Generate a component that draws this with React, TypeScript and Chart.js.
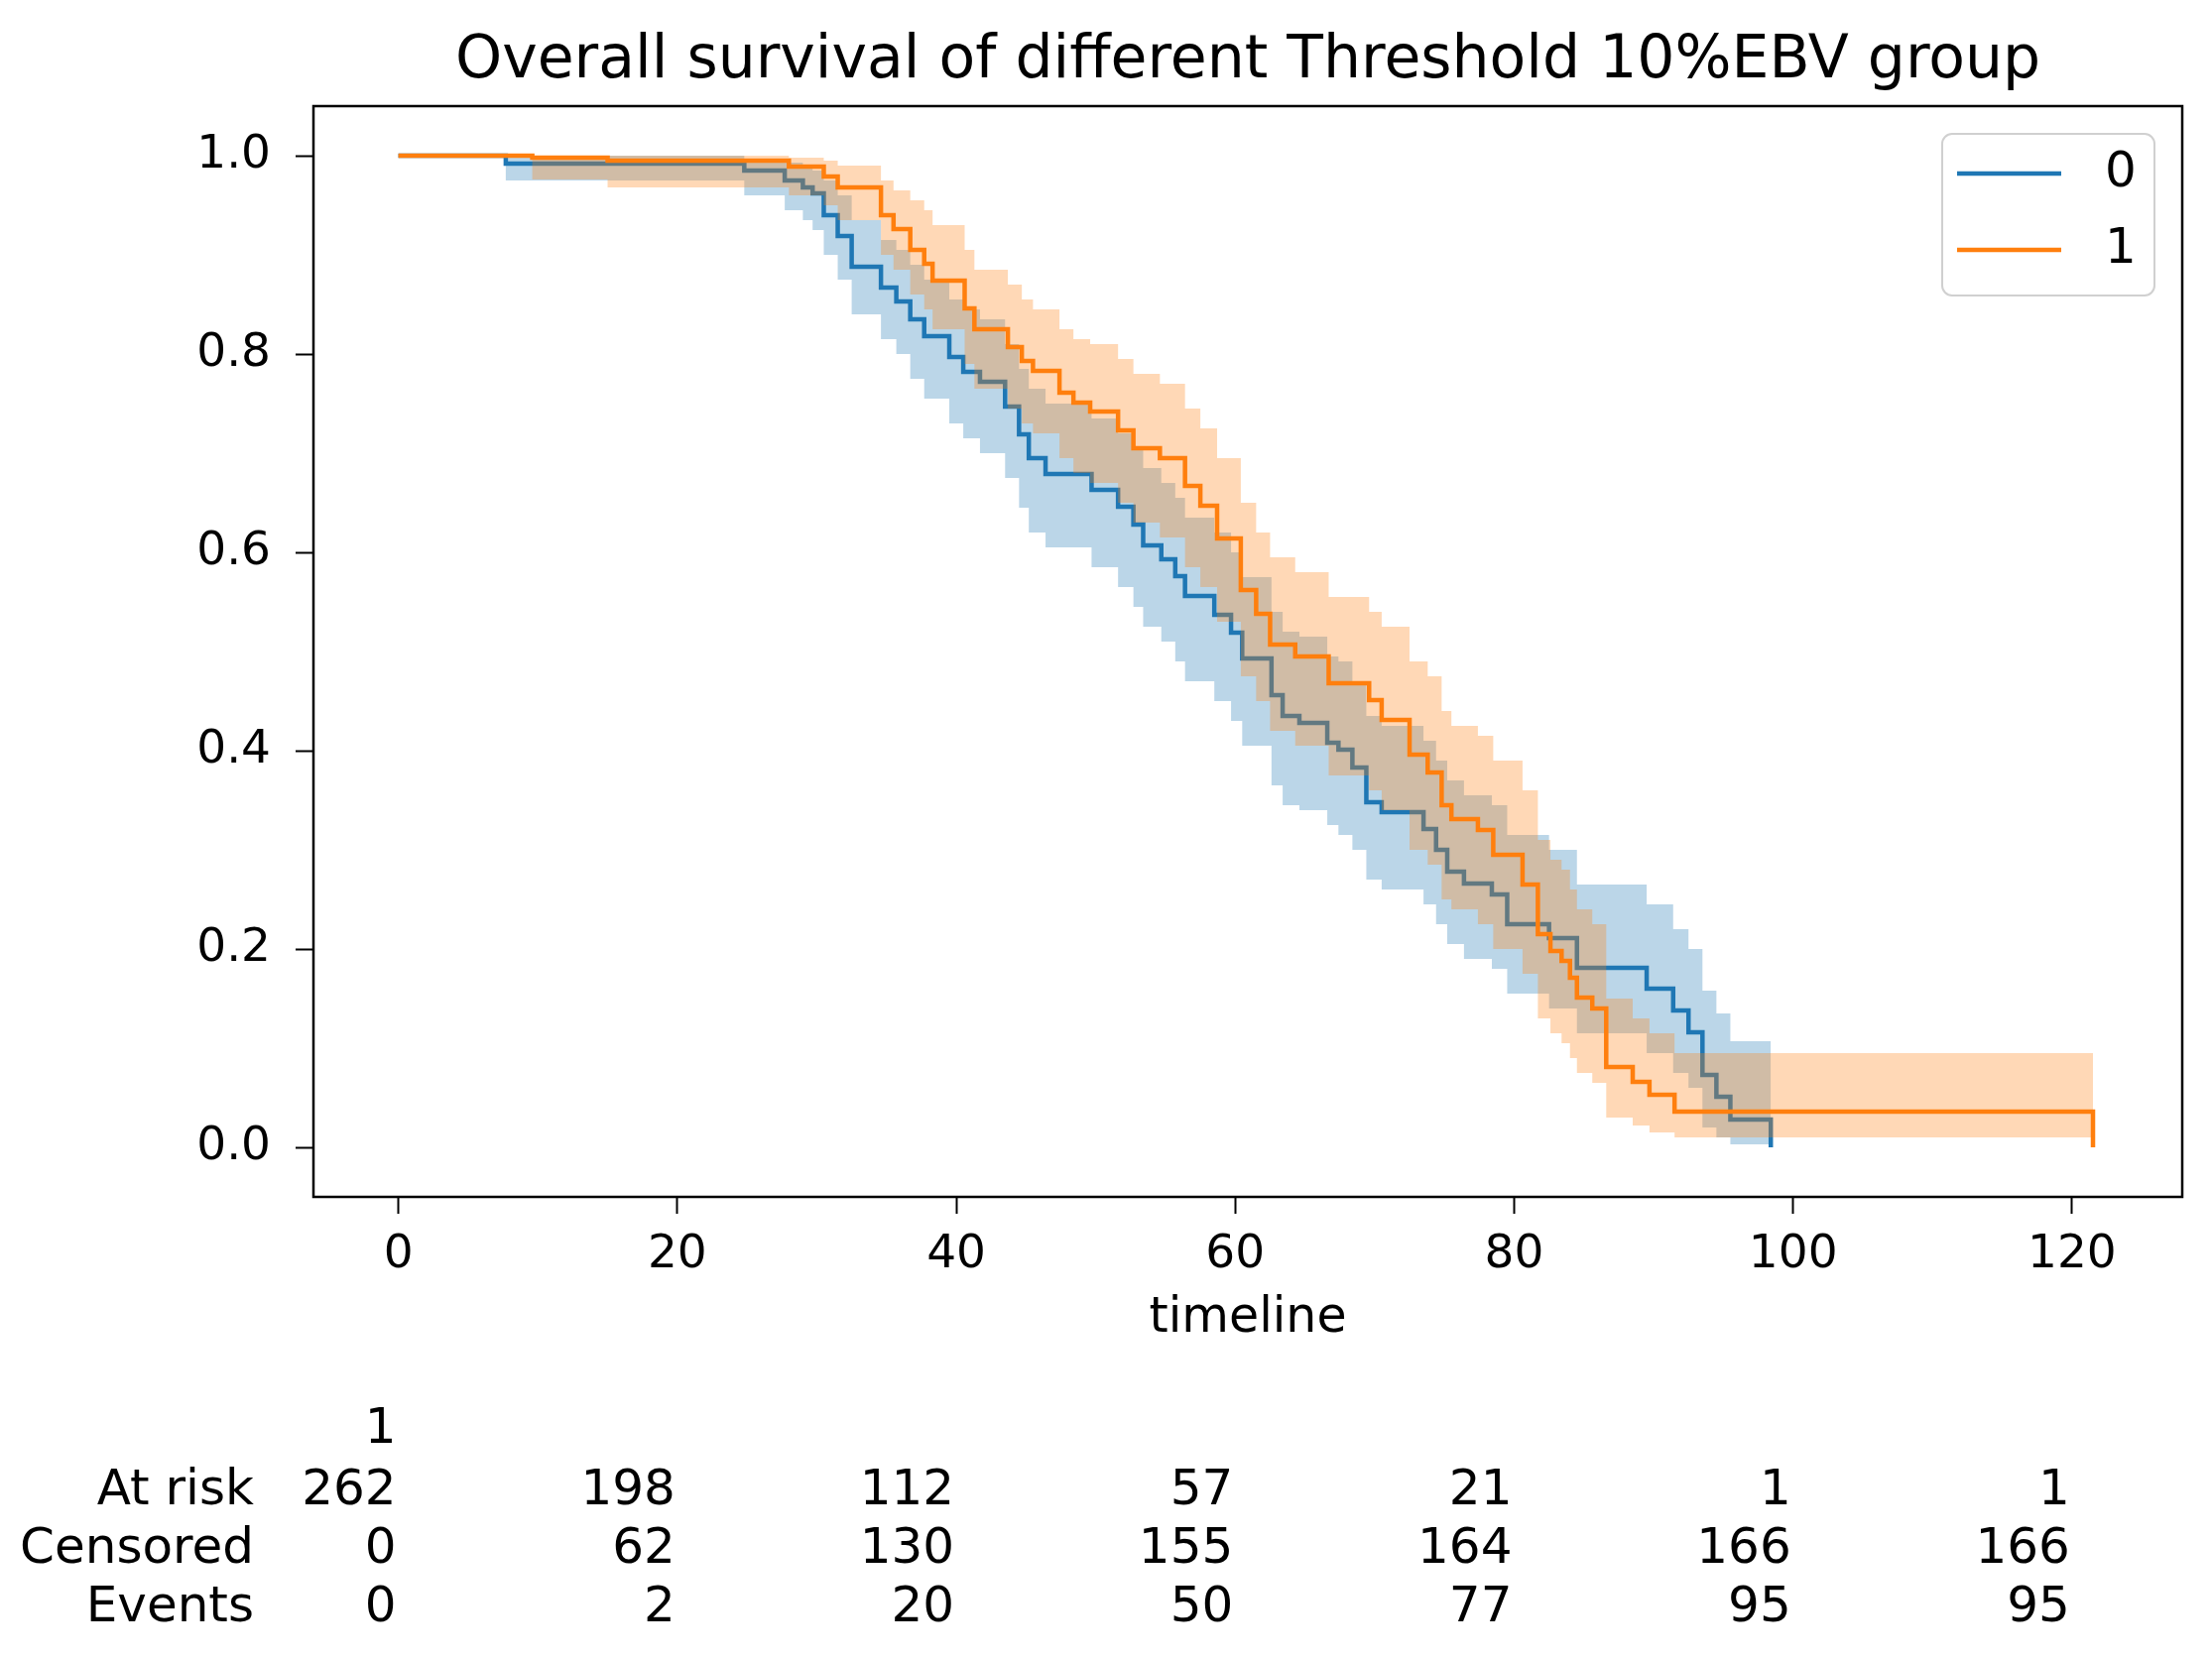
import { useEffect, useRef } from "react"
import { Chart, registerables } from "chart.js"

Chart.register(...registerables)

const FONT = "'DejaVu Sans', sans-serif"

const titleText = "Overall survival of different Threshold 10%EBV group"
const groupLabels = ["0", "1"]

// group 0 (blue) Kaplan-Meier steps and confidence band
const blueTime = [
  0, 7.7, 24.8, 27.7, 29.0, 29.7, 30.5, 31.5, 32.5, 34.6, 35.7, 36.7, 37.7, 39.5, 40.5, 41.7, 43.5, 44.5,
  45.2, 46.4, 49.7, 51.6, 52.7, 53.4, 54.7, 55.7, 56.4, 58.5, 59.7, 60.5, 62.6, 63.4, 64.6, 66.6, 67.4, 68.4,
  69.4, 70.5, 73.5, 74.4, 75.2, 76.4, 78.4, 79.5, 82.5, 84.5, 89.5, 91.4, 92.5, 93.5, 94.5, 95.5, 98.4,
]
const blueSurv = [
  1.0, 0.992, 0.985, 0.975, 0.968, 0.962, 0.94, 0.919, 0.888, 0.867, 0.853, 0.835, 0.818, 0.797, 0.782, 0.772,
  0.747, 0.719, 0.695, 0.679, 0.663, 0.646, 0.628, 0.607, 0.593, 0.576, 0.556, 0.537, 0.519, 0.493, 0.456,
  0.435, 0.428, 0.408, 0.401, 0.383, 0.348, 0.338, 0.321, 0.3, 0.278, 0.266, 0.255, 0.225, 0.211, 0.181, 0.16,
  0.138, 0.116, 0.073, 0.051, 0.028, 0.0,
]
const blueLower = [
  1.0, 0.975, 0.96, 0.945, 0.935, 0.925, 0.9, 0.875, 0.84, 0.815, 0.8, 0.775, 0.755, 0.73, 0.715, 0.7, 0.675,
  0.645, 0.62, 0.605, 0.585, 0.565, 0.545, 0.525, 0.51, 0.49, 0.47, 0.45, 0.43, 0.405, 0.365, 0.345, 0.34,
  0.325, 0.315, 0.3, 0.27, 0.26, 0.245, 0.225, 0.205, 0.19, 0.18, 0.155, 0.14, 0.115, 0.095, 0.075, 0.06, 0.02,
  0.01, 0.003, 0.003,
]
const blueUpper = [
  1.0, 1.0, 0.997, 0.993, 0.99, 0.985, 0.975, 0.96, 0.935, 0.915, 0.905, 0.89, 0.875, 0.855, 0.845, 0.835,
  0.81, 0.785, 0.765, 0.75, 0.735, 0.72, 0.705, 0.685, 0.67, 0.655, 0.635, 0.62, 0.6, 0.575, 0.54, 0.52,
  0.515, 0.495, 0.49, 0.47, 0.435, 0.425, 0.41, 0.39, 0.37, 0.355, 0.345, 0.315, 0.3, 0.265, 0.245, 0.22, 0.2,
  0.158, 0.135, 0.107, 0.107,
]

// group 1 (orange) Kaplan-Meier steps and confidence band
const orangeTime = [
  0, 9.6, 15.0, 28.0, 30.5, 31.5, 34.6, 35.5, 36.7, 37.7, 38.3, 40.6, 41.3, 43.7, 44.7, 45.5, 47.4, 48.4, 49.6,
  51.6, 52.7, 54.6, 56.4, 57.5, 58.7, 60.4, 61.5, 62.5, 64.3, 66.7, 69.6, 70.5, 72.5, 73.8, 74.8, 75.5, 77.4,
  78.5, 80.6, 81.7, 82.6, 83.4, 84.0, 84.5, 85.6, 86.6, 88.5, 89.7, 91.5, 121.5,
]
const orangeSurv = [
  1.0, 0.998, 0.995, 0.989, 0.979, 0.968, 0.94, 0.926, 0.905, 0.891, 0.874, 0.846, 0.825, 0.807, 0.793, 0.783,
  0.761, 0.751, 0.742, 0.723, 0.705, 0.695, 0.667, 0.647, 0.614, 0.562, 0.538, 0.507, 0.495, 0.468, 0.451,
  0.431, 0.396, 0.378, 0.345, 0.331, 0.32, 0.295, 0.265, 0.215, 0.198, 0.188, 0.171, 0.151, 0.14, 0.081, 0.066,
  0.053, 0.036, 0.0,
]
const orangeLower = [
  1.0, 0.976, 0.968, 0.96, 0.95, 0.935, 0.9, 0.885, 0.86, 0.845, 0.825, 0.79, 0.765, 0.745, 0.73, 0.72, 0.695,
  0.68, 0.67, 0.65, 0.63, 0.615, 0.585, 0.565, 0.53, 0.475, 0.45, 0.42, 0.405, 0.375, 0.36, 0.34, 0.3, 0.285,
  0.25, 0.24, 0.225, 0.2, 0.175, 0.13, 0.115, 0.105, 0.09, 0.075, 0.065, 0.03, 0.022, 0.015, 0.01, 0.01,
]
const orangeUpper = [
  1.0, 1.0, 1.0, 0.998, 0.995, 0.99, 0.975, 0.965, 0.955, 0.945, 0.93, 0.905, 0.885, 0.87, 0.855, 0.845, 0.825,
  0.815, 0.81, 0.795, 0.78, 0.77, 0.745, 0.725, 0.695, 0.65, 0.62, 0.595, 0.58, 0.555, 0.54, 0.525, 0.49, 0.475,
  0.44, 0.425, 0.415, 0.39, 0.36, 0.31, 0.29, 0.28, 0.26, 0.24, 0.225, 0.15, 0.13, 0.115, 0.095, 0.095,
]

const xTicks = [0, 20, 40, 60, 80, 100, 120]
const yTicks = [0, 0.2, 0.4, 0.6, 0.8, 1.0]

// at-risk table under the plot
const riskHeader = "1"
const riskRows = ["At risk", "Censored", "Events"]
const atRisk = [262, 198, 112, 57, 21, 1, 1]
const censored = [0, 62, 130, 155, 164, 166, 166]
const events = [0, 2, 20, 50, 77, 95, 95]

const BLUE = "#1f77b4"
const ORANGE = "#ff7f0e"

const toPoints = (xs: number[], ys: number[]) => xs.map((x, i) => ({ x, y: ys[i] }))

const extrasPlugin = {
  id: "kmExtras",
  afterDraw(chart: Chart) {
    const { ctx, chartArea } = chart
    const { left, right, top, bottom } = chartArea
    ctx.save()

    // frame
    ctx.strokeStyle = "#000"
    ctx.lineWidth = 2.5
    ctx.strokeRect(left, top, right - left, bottom - top)

    // title
    ctx.fillStyle = "#000"
    ctx.font = `60px ${FONT}`
    ctx.textAlign = "center"
    ctx.textBaseline = "alphabetic"
    ctx.fillText(titleText, (left + right) / 2, 78)

    // legend
    const boxW = 214
    const boxH = 163
    const bx = right - 28 - boxW
    const by = top + 28
    ctx.beginPath()
    ctx.roundRect(bx, by, boxW, boxH, 10)
    ctx.fillStyle = "rgba(255,255,255,0.8)"
    ctx.fill()
    ctx.strokeStyle = "#d0d0d0"
    ctx.lineWidth = 2
    ctx.stroke()
    const colors = [BLUE, ORANGE]
    groupLabels.forEach((label, i) => {
      const ly = by + 40 + i * 77
      ctx.beginPath()
      ctx.moveTo(bx + 15, ly)
      ctx.lineTo(bx + 120, ly)
      ctx.strokeStyle = colors[i]
      ctx.lineWidth = 4.5
      ctx.stroke()
      ctx.fillStyle = "#000"
      ctx.font = `50px ${FONT}`
      ctx.textAlign = "left"
      ctx.textBaseline = "middle"
      ctx.fillText(label, bx + 164, ly)
    })

    // at-risk table
    const xScale = chart.scales.x
    ctx.font = `50px ${FONT}`
    ctx.fillStyle = "#000"
    ctx.textBaseline = "alphabetic"
    ctx.textAlign = "right"
    ctx.fillText(riskHeader, xScale.getPixelForValue(xTicks[0]) - 2, 1455)
    const rows = [atRisk, censored, events]
    const baselines = [1517, 1576, 1635]
    rows.forEach((vals, r) => {
      ctx.fillText(riskRows[r], 256, baselines[r])
      vals.forEach((v, i) => {
        ctx.fillText(String(v), xScale.getPixelForValue(xTicks[i]) - 2, baselines[r])
      })
    })
    ctx.restore()
  },
}

export default function App() {
  const canvasRef = useRef<HTMLCanvasElement>(null)

  useEffect(() => {
    if (!canvasRef.current) return

    const band = (xs: number[], ys: number[], color: string, fill: string | boolean, order: number) => ({
      label: "",
      data: toPoints(xs, ys),
      borderWidth: 0,
      borderColor: "rgba(0,0,0,0)",
      backgroundColor: color,
      pointRadius: 0,
      stepped: true,
      fill,
      order,
    })

    const chart = new Chart(canvasRef.current, {
      type: "line",
      data: {
        datasets: [
          band(blueTime, blueUpper, "rgba(31,119,180,0.3)", "+1", 6),
          band(blueTime, blueLower, "rgba(31,119,180,0.3)", false, 6),
          {
            label: groupLabels[0],
            data: toPoints(blueTime, blueSurv),
            borderColor: BLUE,
            borderWidth: 4.5,
            pointRadius: 0,
            stepped: true,
            fill: false,
            order: 5,
          },
          band(orangeTime, orangeUpper, "rgba(255,127,14,0.3)", "+1", 4),
          band(orangeTime, orangeLower, "rgba(255,127,14,0.3)", false, 4),
          {
            label: groupLabels[1],
            data: toPoints(orangeTime, orangeSurv),
            borderColor: ORANGE,
            borderWidth: 4.5,
            pointRadius: 0,
            stepped: true,
            fill: false,
            order: 3,
          },
        ],
      },
      options: {
        responsive: false,
        devicePixelRatio: 1,
        animation: false,
        layout: { padding: { left: 0, right: 30, top: 107, bottom: 301 } },
        plugins: {
          legend: { display: false },
          title: { display: false },
          tooltip: { enabled: false },
        },
        scales: {
          x: {
            type: "linear",
            min: -6.09,
            max: 127.9,
            afterBuildTicks: (scale) => {
              scale.ticks = xTicks.map((v) => ({ value: v }))
            },
            afterFit: (scale) => {
              scale.height = 165
            },
            ticks: {
              color: "#000",
              font: { family: FONT, size: 47 },
              padding: 14,
              maxRotation: 0,
              callback: (v) => String(v),
            },
            grid: {
              drawOnChartArea: false,
              drawTicks: true,
              tickLength: 17,
              tickColor: "#000",
              tickWidth: 2,
            },
            border: { display: false },
            title: {
              display: true,
              text: "timeline",
              color: "#000",
              font: { family: FONT, size: 49 },
              padding: { top: 0, bottom: 12 },
            },
          },
          y: {
            type: "linear",
            min: -0.05,
            max: 1.05,
            afterBuildTicks: (scale) => {
              scale.ticks = yTicks.map((v) => ({ value: v }))
            },
            afterFit: (scale) => {
              scale.width = 316
            },
            ticks: {
              color: "#000",
              font: { family: FONT, size: 47 },
              padding: 25,
              callback: (v) => Number(v).toFixed(1),
            },
            grid: {
              drawOnChartArea: false,
              drawTicks: true,
              tickLength: 18,
              tickColor: "#000",
              tickWidth: 2,
            },
            border: { display: false },
          },
        },
      },
      plugins: [extrasPlugin],
    })

    return () => chart.destroy()
  }, [])

  return (
    <div style={{ position: "absolute", left: 0, top: 0, width: 2230, height: 1673, background: "#fff" }}>
      <canvas ref={canvasRef} width={2230} height={1673} style={{ display: "block", width: 2230, height: 1673 }} />
    </div>
  )
}
